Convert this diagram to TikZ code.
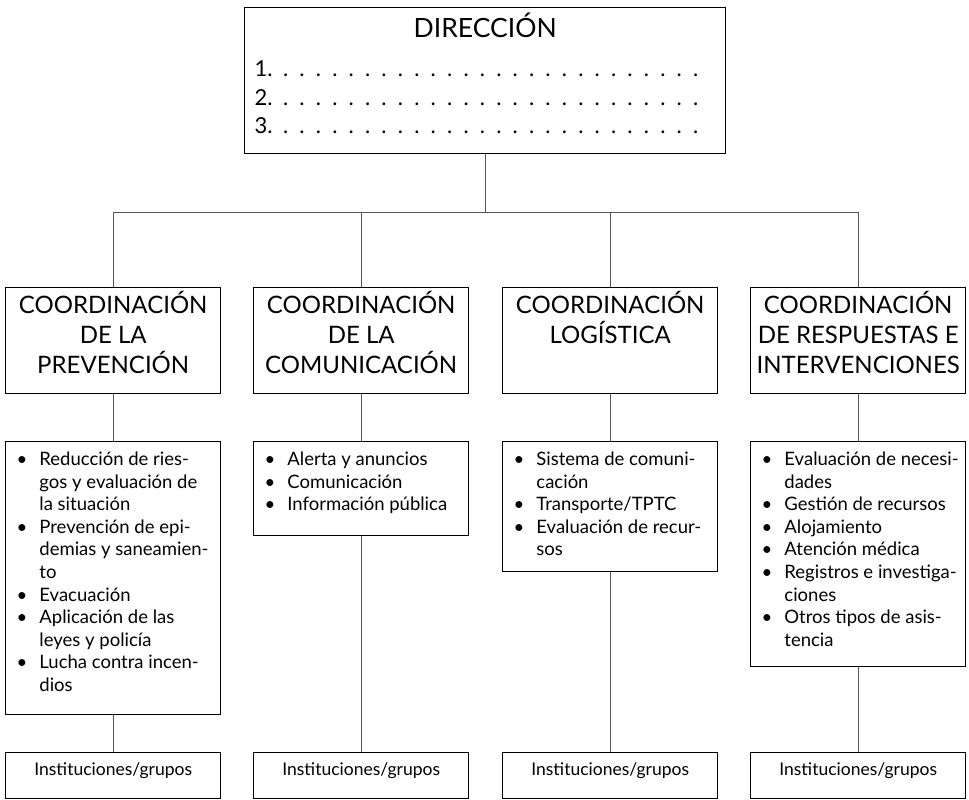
\documentclass[tikz,border=0pt]{standalone}
\usepackage{fontspec}
\setmainfont{Lato}
\usepackage{tikz}
\definecolor{Linea}{HTML}{555555}

% leaders of the top box
\newcommand{\puntos}{\leaders\hbox to 16.4pt{\hss.\hss}\hfill\kern0pt}
% header text, top aligned
\newcommand{\titulo}[1]{\parbox[c][106pt][t]{215pt}{\centering\fontsize{24}{30}\selectfont\rule{0pt}{26pt}#1}}
% bullet list of fixed height
\newcommand{\lista}[2]{\parbox[c][#1pt][t]{215pt}{\fontsize{18.5}{22.6}\selectfont\vspace*{8pt}\noindent
  \begin{tabular}[t]{@{\hspace{11pt}}l@{\hspace{12pt}}l@{}}#2\end{tabular}}}
\newcommand{\grupo}{\parbox[c][46pt][t]{215pt}{\centering\fontsize{17.5}{20}\selectfont\rule{0pt}{23pt}Instituciones/grupos}}

\begin{document}
\begin{tikzpicture}[x=1pt,y=-1pt,
    caja/.style={draw,line width=1.4pt,inner sep=0pt,anchor=north west},
    linea/.style={draw=Linea,line width=0.9pt}
]
\useasboundingbox (0,0) rectangle (969,800);

\node[caja] (dir) at (244,7) {\parbox[c][146pt][t]{481pt}{%
  {\centering\fontsize{26.5}{30}\selectfont\rule{0pt}{30pt}DIRECCIÓN\par}
  \vspace{10.5pt}
  {\fontsize{22}{28.5}\selectfont\leftskip=10pt\rightskip=16pt\parfillskip=0pt
  1.\puntos\par 2.\puntos\par 3.\puntos\par}}};

\node[caja] (c1) at (5,287) {\titulo{COORDINACIÓN\\DE LA\\PREVENCIÓN}};
\node[caja] (c2) at (253,287) {\titulo{COORDINACIÓN\\DE LA\\COMUNICACIÓN}};
\node[caja] (c3) at (502,287) {\titulo{COORDINACIÓN\\LOGÍSTICA}};
\node[caja] (c4) at (750,287) {\titulo{COORDINACIÓN\\DE RESPUESTAS E\\INTERVENCIONES}};

\node[caja] (l1) at (5,441) {\lista{273}{%
  \textbullet & Reducción de ries-\\ & gos y evaluación de\\ & la situación\\
  \textbullet & Prevención de epi-\\ & demias y saneamien-\\ & to\\
  \textbullet & Evacuación\\
  \textbullet & Aplicación de las\\ & leyes y policía\\
  \textbullet & Lucha contra incen-\\ & dios}};
\node[caja] (l2) at (253,441) {\lista{94}{%
  \textbullet & Alerta y anuncios\\
  \textbullet & Comunicación\\
  \textbullet & Información pública}};
\node[caja] (l3) at (502,441) {\lista{130}{%
  \textbullet & Sistema de comuni-\\ & cación\\
  \textbullet & Transporte/TPTC\\
  \textbullet & Evaluación de recur-\\ & sos}};
\node[caja] (l4) at (750,441) {\lista{225}{%
  \textbullet & Evaluación de necesi-\\ & dades\\
  \textbullet & Gestión de recursos\\
  \textbullet & Alojamiento\\
  \textbullet & Atención médica\\
  \textbullet & Registros e investiga-\\ & ciones\\
  \textbullet & Otros tipos de asis-\\ & tencia}};

\node[caja] (g1) at (5,752) {\grupo};
\node[caja] (g2) at (253,752) {\grupo};
\node[caja] (g3) at (502,752) {\grupo};
\node[caja] (g4) at (750,752) {\grupo};

% connectors
\path (dir.south) ++(0,58) coordinate (bus);
\draw[linea] (dir.south) -- (bus);
\draw[linea] (c1.north) |- (bus) -| (c4.north);
\draw[linea] (c2.north) -- (c2.north |- bus);
\draw[linea] (c3.north) -- (c3.north |- bus);
\foreach \i in {1,...,4} {
  \draw[linea] (c\i.south) -- (l\i.north);
  \draw[linea] (l\i.south) -- (g\i.north);
}
\end{tikzpicture}
\end{document}
